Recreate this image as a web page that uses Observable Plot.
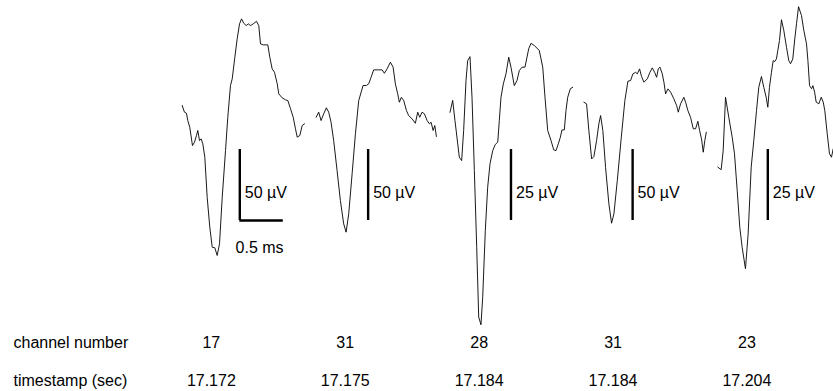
<!DOCTYPE html>
<html>
<head>
<meta charset="utf-8">
<script src="https://cdn.jsdelivr.net/npm/d3@7"></script>
<script src="https://cdn.jsdelivr.net/npm/@observablehq/plot@0.6"></script>
<style>
  html, body { margin: 0; padding: 0; background: #fff; }
  #chart svg { display: block; }
</style>
</head>
<body>
<div id="chart"></div>
<script>
// Spike waveforms: [time within window (ms), voltage (µV)]
const spike1 = [[0,56.0],[0.026,51.3],[0.049,50.6],[0.064,45.4],[0.087,40.7],[0.118,27.8],[0.141,30.1],[0.164,34.9],[0.179,38.4],[0.199,31.3],[0.218,32.5],[0.237,29.0],[0.260,19.6],[0.287,-8.6],[0.317,-29.7],[0.345,-43.8],[0.375,-44.2],[0.402,-49.6],[0.429,-41.4],[0.460,-8.6],[0.498,24.3],[0.524,47.7],[0.555,70.1],[0.575,74.8],[0.605,90.0],[0.632,103.0],[0.659,113.5],[0.682,117.0],[0.708,113.9],[0.736,112.3],[0.759,113.5],[0.785,112.3],[0.816,113.5],[0.854,115.3],[0.880,112.3],[0.900,99.4],[0.931,98.7],[0.984,98.7],[1.007,90.0],[1.034,81.8],[1.061,79.4],[1.092,71.3],[1.110,64.2],[1.149,61.4],[1.187,60.0],[1.214,59.5],[1.245,53.7],[1.276,47.7],[1.302,39.6],[1.322,33.7],[1.352,34.9],[1.379,41.9],[1.406,43.1]];
const spike2 = [[0,47.7],[0.030,51.3],[0.057,45.4],[0.087,50.1],[0.118,54.4],[0.145,51.3],[0.172,44.2],[0.202,31.3],[0.241,10.2],[0.279,-10.9],[0.317,-27.3],[0.345,-33.2],[0.375,-20.3],[0.414,7.9],[0.452,36.1],[0.490,59.5],[0.540,70.1],[0.578,70.1],[0.605,71.3],[0.632,75.9],[0.662,81.1],[0.720,81.1],[0.759,81.1],[0.785,78.7],[0.816,81.8],[0.854,86.5],[0.885,83.0],[0.911,71.3],[0.938,64.2],[0.957,58.3],[0.980,61.8],[1.007,59.5],[1.038,52.5],[1.064,48.9],[1.103,46.6],[1.141,43.5],[1.168,51.3],[1.191,47.7],[1.218,51.3],[1.245,50.1],[1.276,45.4],[1.302,43.1],[1.322,44.2],[1.345,38.4],[1.364,41.9],[1.383,34.2]];
const spike3 = [[0,25.6],[0.031,29.8],[0.057,22.7],[0.089,14.5],[0.107,9.8],[0.134,8.6],[0.157,19.2],[0.184,36.8],[0.203,43.8],[0.230,45.2],[0.253,30.9],[0.280,5.1],[0.307,-21.9],[0.330,-46.5],[0.356,-49.2],[0.376,-39.5],[0.406,-16.0],[0.433,-0.8],[0.460,7.5],[0.491,12.1],[0.521,14.3],[0.549,15.1],[0.567,22.7],[0.586,30.9],[0.613,35.6],[0.644,39.2],[0.675,45.0],[0.701,41.5],[0.739,35.0],[0.770,36.8],[0.797,40.3],[0.828,41.5],[0.862,41.5],[0.885,45.0],[0.905,48.0],[0.931,49.9],[0.969,49.1],[1.026,47.4],[1.066,41.5],[1.092,30.9],[1.123,19.2],[1.161,15.7],[1.192,12.4],[1.218,12.1],[1.245,14.5],[1.268,16.8],[1.287,19.4],[1.314,19.4],[1.333,26.2],[1.353,30.9],[1.383,33.9],[1.410,34.4]];
const spike4 = [[0,58.3],[0.031,57.2],[0.057,38.4],[0.089,18.4],[0.115,20.1],[0.146,31.3],[0.172,43.1],[0.192,48.9],[0.218,38.4],[0.249,12.5],[0.287,-13.2],[0.318,-26.9],[0.345,-20.3],[0.384,3.2],[0.430,33.7],[0.471,59.5],[0.506,73.1],[0.537,73.6],[0.563,78.3],[0.594,79.4],[0.614,78.3],[0.640,81.8],[0.663,76.4],[0.690,72.4],[0.729,74.8],[0.759,79.4],[0.786,82.5],[0.813,79.4],[0.836,75.9],[0.855,81.8],[0.874,83.0],[0.901,78.3],[0.920,72.4],[0.939,64.2],[0.966,67.7],[0.997,65.4],[1.034,60.7],[1.066,56.0],[1.085,51.3],[1.111,57.2],[1.149,61.8],[1.169,58.3],[1.195,52.5],[1.226,47.7],[1.257,39.6],[1.284,39.6],[1.310,44.9],[1.330,38.4],[1.352,32.5],[1.372,23.1],[1.390,31.3],[1.407,37.2]];
const spike5 = [[0,6.3],[0.039,5.4],[0.062,12.1],[0.089,30.9],[0.126,23.9],[0.166,16.8],[0.192,11.0],[0.223,-1.9],[0.253,-14.9],[0.280,-21.9],[0.318,-29.5],[0.349,-17.2],[0.384,6.3],[0.414,15.7],[0.445,26.2],[0.471,34.4],[0.502,38.2],[0.529,34.4],[0.556,30.9],[0.575,27.4],[0.594,34.4],[0.617,39.7],[0.637,43.8],[0.655,43.5],[0.674,44.4],[0.690,47.4],[0.709,50.9],[0.732,58.2],[0.759,54.4],[0.790,48.5],[0.816,43.8],[0.836,42.7],[0.862,44.4],[0.885,51.5],[0.905,56.8],[0.928,62.8],[0.962,59.7],[0.989,54.4],[1.020,49.7],[1.036,43.8],[1.055,35.0],[1.078,33.9],[1.093,35.0],[1.113,32.7],[1.131,29.2],[1.161,28.6],[1.189,30.9],[1.212,29.2],[1.230,26.2],[1.258,18.0],[1.284,11.0],[1.307,9.8],[1.326,12.7]];

const spikes = [spike1, spike2, spike3, spike4, spike5];
const channels = ["17", "31", "28", "31", "23"];
const timestamps = ["17.172", "17.175", "17.184", "17.184", "17.204"];
const scaleBarUV = [50, 50, 25, 50, 25];           // vertical scale bar size (µV)
const scaleBarTime = [0.662, 0.598, 0.701, 0.560, 0.575]; // bar position within window (ms)
const timeBarMs = 0.5;                              // horizontal scale bar (ms)
const rowLabels = ["channel number", "timestamp (sec)"];

// Layout: each spike window is shown side by side; one window = 1.539 ms wide.
const windowMs = 1.539;
const gx = (i, t) => i * windowMs + t;

const traces = spikes.flatMap((s, i) =>
  s.map(([t, v]) => ({panel: i, x: gx(i, t), y: v / scaleBarUV[i]})));
const bars = scaleBarUV.map((uv, i) => ({
  panel: i, x: gx(i, scaleBarTime[i]), label: `${uv} µV`
}));
const labelOffsetMs = 0.335;
const chanRows = channels.map((c, i) => ({x: gx(i, labelOffsetMs), text: c}));
const timeRows = timestamps.map((c, i) => ({x: gx(i, labelOffsetMs), text: c}));
const tb = {x1: bars[0].x, x2: bars[0].x + timeBarMs, xm: bars[0].x + timeBarMs / 2};

const chart = Plot.plot({
  width: 833,
  height: 391,
  margin: 0,
  style: {fontFamily: "'Liberation Sans', Arial, Helvetica, sans-serif", fontSize: "16px", background: "#fff", color: "#000"},
  x: {domain: [-2.0885, 7.486], axis: null},
  y: {domain: [-2.908, 2.599], axis: null},
  marks: [
    Plot.line(traces, {x: "x", y: "y", z: "panel", stroke: "#000", strokeWidth: 0.9, strokeLinejoin: "miter"}),
    Plot.ruleX(bars, {x: "x", y1: -0.5, y2: 0.5, stroke: "#000", strokeWidth: 2.4}),
    Plot.ruleY([tb], {x1: "x1", x2: "x2", y: -0.5, stroke: "#000", strokeWidth: 2.4}),
    Plot.text(bars, {x: "x", y: 0, text: "label", textAnchor: "start", dx: 5, dy: 8, fill: "#000"}),
    Plot.text([tb], {x: "xm", y: -0.5, text: () => `${timeBarMs} ms`, dx: -2, dy: 27, fill: "#000"}),
    Plot.text(chanRows, {x: "x", text: "text", frameAnchor: "bottom", dy: -44, fill: "#000"}),
    Plot.text(timeRows, {x: "x", text: "text", frameAnchor: "bottom", dy: -6, fill: "#000"}),
    Plot.text([rowLabels[0]], {text: d => d, frameAnchor: "bottom-left", textAnchor: "start", dx: 13, dy: -44, fill: "#000"}),
    Plot.text([rowLabels[1]], {text: d => d, frameAnchor: "bottom-left", textAnchor: "start", dx: 13, dy: -6, fill: "#000"})
  ]
});
document.getElementById("chart").appendChild(chart);
</script>
</body>
</html>
